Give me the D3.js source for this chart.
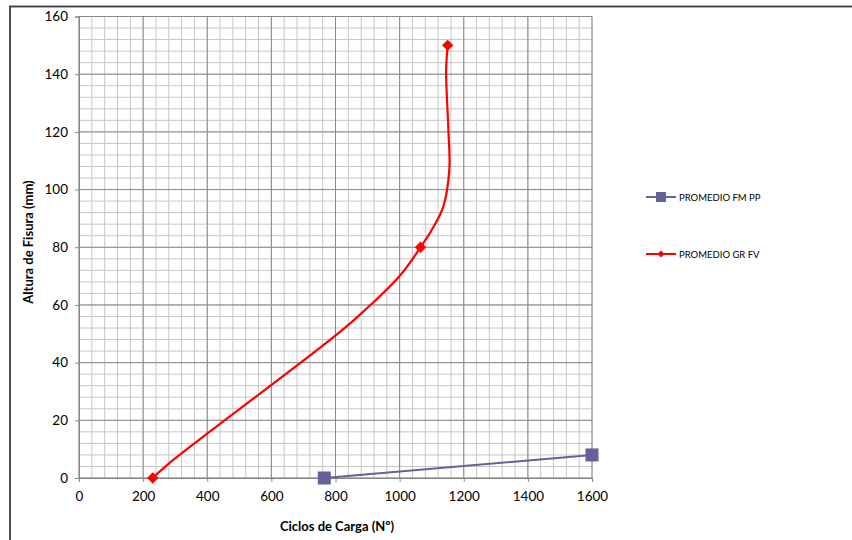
<!DOCTYPE html>
<html>
<head>
<meta charset="utf-8">
<script src="https://cdn.jsdelivr.net/npm/d3@7"></script>
<style>
  html, body { margin: 0; padding: 0; background: #fff; }
  svg { display: block; }
  text { font-family: Lato, "Open Sans", sans-serif; fill: #000; }
</style>
</head>
<body>
<svg id="chart" width="852" height="540"></svg>
<script>
// ---- data ----
const xTickValues = [0, 200, 400, 600, 800, 1000, 1200, 1400, 1600];
const yTickValues = [0, 20, 40, 60, 80, 100, 120, 140, 160];

const fmCycles = [765, 1600];
const fmHeight = [0, 8];

const grCycles = [230, 280, 750, 860, 1000, 1065, 1100, 1136, 1155, 1152, 1145, 1150];
const grHeight = [0, 5, 45, 55, 70, 80, 86, 94, 107, 121, 141, 150];
const grMarked = [true, false, false, false, false, true, false, false, false, false, false, true];

const seriesNames = ["PROMEDIO FM PP", "PROMEDIO GR FV"];
const xTitle = "Ciclos de Carga (Nº)";
const yTitle = "Altura de Fisura (mm)";

// ---- layout ----
const svg = d3.select("#chart");
const plot = { left: 79, right: 592, top: 16.5, bottom: 478 };
const x = d3.scaleLinear().domain([0, 1600]).range([plot.left, plot.right]);
const y = d3.scaleLinear().domain([0, 160]).range([plot.bottom, plot.top]);

// outer border
svg.append("rect")
  .attr("x", 10).attr("y", 6.5).attr("width", 860).attr("height", 560)
  .attr("fill", "#fff").attr("stroke", "#3a3a3a").attr("stroke-width", 1.8);

// minor grid
const g = svg.append("g");
const xMinor = d3.range(0, 1601, 40);
const yMinor = d3.range(0, 161, 4);
g.selectAll(".xminor").data(xMinor).join("line")
  .attr("x1", d => x(d)).attr("x2", d => x(d))
  .attr("y1", plot.top).attr("y2", plot.bottom)
  .attr("stroke", "#c6c6c6").attr("stroke-width", 1);
g.selectAll(".yminor").data(yMinor).join("line")
  .attr("y1", d => y(d)).attr("y2", d => y(d))
  .attr("x1", plot.left).attr("x2", plot.right)
  .attr("stroke", "#c6c6c6").attr("stroke-width", 1);
// major grid
g.selectAll(".xmajor").data(xTickValues).join("line")
  .attr("x1", d => x(d)).attr("x2", d => x(d))
  .attr("y1", plot.top).attr("y2", plot.bottom)
  .attr("stroke", "#8a8a8a").attr("stroke-width", 1);
g.selectAll(".ymajor").data(yTickValues).join("line")
  .attr("y1", d => y(d)).attr("y2", d => y(d))
  .attr("x1", plot.left).attr("x2", plot.right)
  .attr("stroke", "#8a8a8a").attr("stroke-width", 1);

// axes
const fmt = d3.format("d");
const xAxis = d3.axisBottom(x).tickValues(xTickValues).tickFormat(fmt).tickSize(4).tickPadding(9);
const yAxis = d3.axisLeft(y).tickValues(yTickValues).tickFormat(fmt).tickSize(4).tickPadding(7);
const gx = svg.append("g").attr("transform", `translate(0,${plot.bottom})`).call(xAxis);
const gy = svg.append("g").attr("transform", `translate(${plot.left},0)`).call(yAxis);
[gx, gy].forEach(a => {
  a.select(".domain").attr("stroke", "#868686");
  a.selectAll(".tick line").attr("stroke", "#868686");
  a.selectAll(".tick text").attr("font-family", "Lato, sans-serif").attr("font-size", 13.5).attr("fill", "#000");
});

// axis titles
svg.append("text")
  .attr("x", 337).attr("y", 531)
  .attr("text-anchor", "middle").attr("font-weight", "bold").attr("font-size", 13)
  .text(xTitle);
svg.append("text")
  .attr("transform", "translate(33,242) rotate(-90)")
  .attr("text-anchor", "middle").attr("font-weight", "bold").attr("font-size", 13)
  .text(yTitle);

// series
const fmColor = "#64619c";
const grColor = "#ff0000";

const fmData = fmCycles.map((c, i) => ({ c, h: fmHeight[i] }));
const grData = grCycles.map((c, i) => ({ c, h: grHeight[i], m: grMarked[i] }));

const line = d3.line().x(d => x(d.c)).y(d => y(d.h));
const smooth = d3.line().x(d => x(d.c)).y(d => y(d.h)).curve(d3.curveCatmullRom.alpha(0.5));

svg.append("path").datum(fmData).attr("d", line)
  .attr("fill", "none").attr("stroke", fmColor).attr("stroke-width", 2);
svg.selectAll(".fmpt").data(fmData).join("rect")
  .attr("x", d => x(d.c) - 6.5).attr("y", d => y(d.h) - 6.5)
  .attr("width", 13).attr("height", 13).attr("fill", fmColor);

svg.append("path").datum(grData).attr("d", smooth)
  .attr("fill", "none").attr("stroke", grColor).attr("stroke-width", 2.2);
svg.selectAll(".grpt").data(grData.filter(d => d.m)).join("path")
  .attr("transform", d => `translate(${x(d.c)},${y(d.h)}) rotate(45)`)
  .attr("d", d3.symbol().type(d3.symbolSquare).size(64))
  .attr("fill", grColor);

// legend
const legend = svg.append("g");
const legY = [197, 254];
legend.append("line").attr("x1", 646).attr("x2", 676).attr("y1", legY[0]).attr("y2", legY[0])
  .attr("stroke", fmColor).attr("stroke-width", 2);
legend.append("rect").attr("x", 656).attr("y", legY[0] - 5).attr("width", 10).attr("height", 10).attr("fill", fmColor);
legend.append("text").attr("x", 679).attr("y", legY[0] + 3.5).attr("font-size", 9.5).text(seriesNames[0]);

legend.append("line").attr("x1", 646).attr("x2", 676).attr("y1", legY[1]).attr("y2", legY[1])
  .attr("stroke", grColor).attr("stroke-width", 2);
legend.append("path").attr("transform", `translate(661,${legY[1]}) rotate(45)`)
  .attr("d", d3.symbol().type(d3.symbolSquare).size(26)).attr("fill", grColor);
legend.append("text").attr("x", 679).attr("y", legY[1] + 3.5).attr("font-size", 9.5).text(seriesNames[1]);
</script>
</body>
</html>
